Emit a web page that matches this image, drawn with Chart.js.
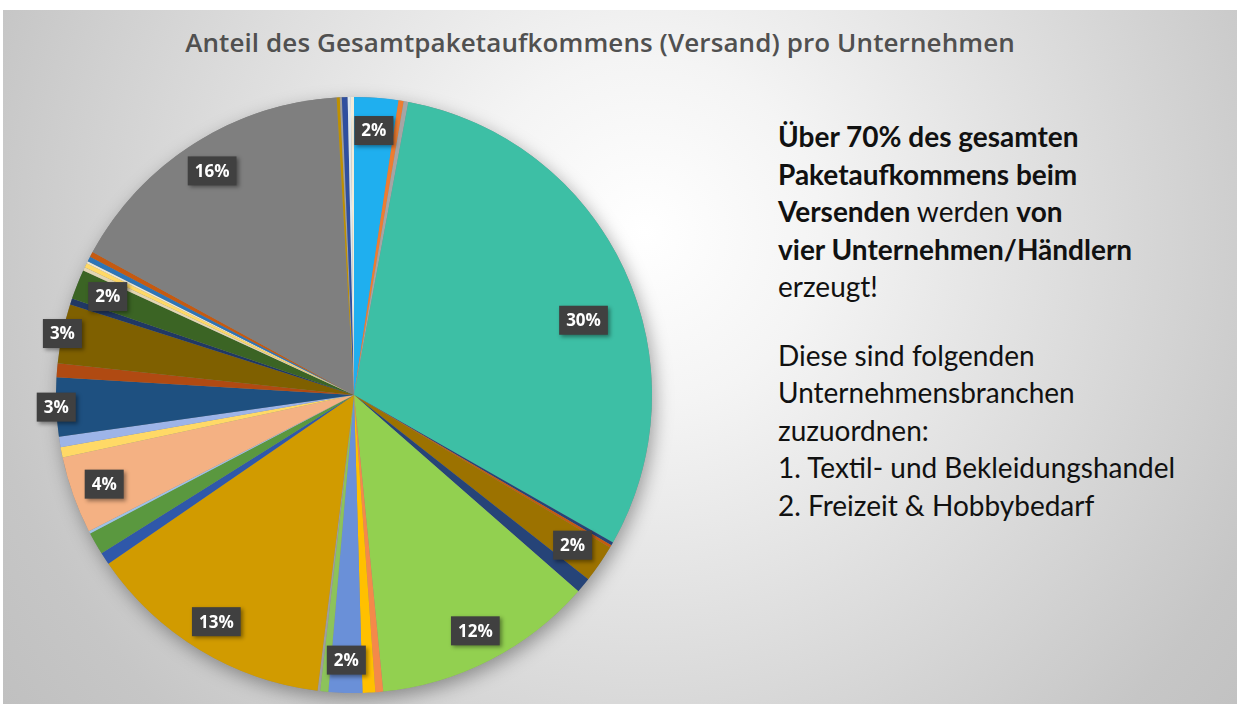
<!DOCTYPE html>
<html>
<head>
<meta charset="utf-8">
<script src="https://cdn.jsdelivr.net/npm/chart.js@4/dist/chart.umd.min.js"></script>
<style>
  html, body { margin: 0; padding: 0; background: #fff; }
  #frame {
    position: absolute; left: 3px; top: 10px; width: 1234px; height: 694px; overflow: hidden;
    background: radial-gradient(circle at 52% 32%, #ffffff 0%, #f4f4f4 22%, #dcdcdc 55%, #c6c6c6 85%, #c0c0c0 100%);
  }
  #title {
    position: absolute; left: 0; top: 14px; width: 1194px; text-align: center;
    font-family: "Open Sans", sans-serif; font-weight: 600; font-size: 26px; color: #505050;
    letter-spacing: 0.1px;
  }
  #pie { position: absolute; left: -3px; top: -10px; width: 710px; height: 704px; }
  #note {
    position: absolute; left: 775px; top: 108px; width: 460px;
    font-family: Lato, sans-serif; font-size: 28px; line-height: 37.5px; color: #111;
  }
  #note p { margin: 0 0 31px 0; white-space: nowrap; }
</style>
</head>
<body>
<div id="frame">
  <div id="title">Anteil des Gesamtpaketaufkommens (Versand) pro Unternehmen</div>
  <div id="note">
    <p><b>Über 70% des gesamten<br>Paketaufkommens beim<br>Versenden</b> werden <b>von<br>vier Unternehmen/Händlern</b><br>erzeugt!</p>
    <p>Diese sind folgenden<br>Unternehmensbranchen<br>zuzuordnen:<br>1. Textil- und Bekleidungshandel<br>2. Freizeit &amp; Hobbybedarf</p>
  </div>
  <div id="pie"><canvas id="c"></canvas></div>
</div>
<script>
// share of total parcels per company, clockwise from 12 o'clock
const shares = [2.39, 0.28, 0.25, 30.33, 0.17, 0.14, 2.06, 0.83, 12.0, 0.42,
                0.69, 1.83, 0.44, 0.14, 13.47, 0.67, 1.22, 0.14, 4.19, 0.56,
                0.56, 3.19, 0.75, 3.22, 0.33, 1.61, 0.19, 0.25, 0.11, 0.28,
                0.28, 16.11, 0.17, 0.11, 0.31, 0.17, 0.17];
const companies = shares.map((v, i) => 'Unternehmen ' + (i + 1));
const sliceColors = ['#1FAFEF', '#ED7D31', '#A5A5A5', '#3DBFA5', '#264478', '#C55A11', '#9C7200', '#264478', '#92D050', '#F4894A',
                     '#FFC000', '#6A90D8', '#8CC35A', '#9E9E9E', '#D19B00', '#2F58AA', '#5A983F', '#9DC3E6', '#F4B183', '#FFD966',
                     '#9DB4E8', '#1E5080', '#B04A12', '#7F6000', '#203864', '#3B6424', '#E2D6B4', '#FFD966', '#EDE6D0', '#2E75B6',
                     '#C55A11', '#7F7F7F', '#BF9000', '#A0A0A0', '#2F4F9F', '#DDE8F0', '#F2EBD8'];

// soft shadow under the whole pie
const pieShadow = {
  id: 'pieShadow',
  beforeDatasetsDraw(chart) {
    const arc = chart.getDatasetMeta(0).data[0];
    if (!arc) return;
    const ctx = chart.ctx;
    ctx.save();
    ctx.shadowColor = 'rgba(0,0,0,0.35)';
    ctx.shadowBlur = 18;
    ctx.shadowOffsetX = 3;
    ctx.shadowOffsetY = 6;
    ctx.fillStyle = '#888';
    ctx.beginPath();
    ctx.arc(arc.x, arc.y, arc.outerRadius, 0, Math.PI * 2);
    ctx.fill();
    ctx.restore();
  }
};

// dark boxed percent labels
const boxLabels = {
  id: 'boxLabels',
  afterDatasetsDraw(chart) {
    const ctx = chart.ctx;
    const data = chart.data.datasets[0].data;
    const total = data.reduce((a, b) => a + b, 0);
    chart.getDatasetMeta(0).data.forEach((arc, i) => {
      const pct = data[i] / total * 100;
      if (pct < 1.5) return;
      const txt = Math.round(pct) + '%';
      let mid = (arc.startAngle + arc.endAngle) / 2;
      let k = pct > 2.9 && pct < 3.5 ? 1.0 : 0.89;
      if (pct > 25) { mid += 0.12; k = 0.81; } // big slice label sits lower, like the original
      const x = arc.x + Math.cos(mid) * arc.outerRadius * k;
      const y = arc.y + Math.sin(mid) * arc.outerRadius * k;
      ctx.save();
      ctx.font = 'bold 17px "Open Sans", sans-serif';
      const w = ctx.measureText(txt).width + 14;
      const h = 29;
      ctx.shadowColor = 'rgba(0,0,0,0.4)';
      ctx.shadowBlur = 4;
      ctx.shadowOffsetX = 2;
      ctx.shadowOffsetY = 2;
      ctx.fillStyle = '#404040';
      ctx.fillRect(x - w / 2, y - h / 2, w, h);
      ctx.shadowColor = 'transparent';
      ctx.fillStyle = '#fff';
      ctx.textAlign = 'center';
      ctx.textBaseline = 'middle';
      ctx.fillText(txt, x, y + 1);
      ctx.restore();
    });
  }
};

new Chart(document.getElementById('c'), {
  type: 'pie',
  data: {
    labels: companies,
    datasets: [{
      data: shares,
      backgroundColor: sliceColors,
      borderWidth: 0
    }]
  },
  options: {
    responsive: true,
    maintainAspectRatio: false,
    animation: false,
    layout: { padding: { top: 97, bottom: 11, left: 56, right: 58 } },
    plugins: {
      legend: { display: false },
      tooltip: { enabled: false }
    }
  },
  plugins: [pieShadow, boxLabels]
});
</script>
</body>
</html>
